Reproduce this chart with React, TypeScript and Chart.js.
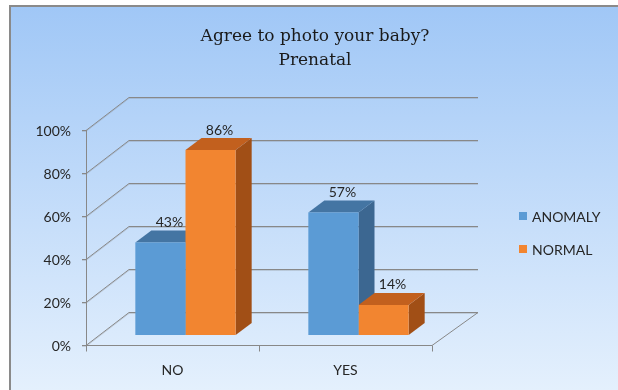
import React, { useEffect, useRef } from "react";
import { Chart, registerables } from "chart.js";
Chart.register(...registerables);

const categories = ["NO", "YES"];
const seriesNames = ["ANOMALY", "NORMAL"];
const anomalyValues = [43, 57];
const normalValues = [86, 14];
const yTickValues = [0, 20, 40, 60, 80, 100];
const titleLines = ["Agree to photo your baby?", "Prenatal"];

const W = 618;
const H = 390;
const FRONT = { dx: -13, dy: 10 };
const BACK = { dx: 30, dy: -23 };
const BAR_D = { dx: 16, dy: -12 };

const FRONT_COLORS = ["#5b9bd5", "#f28530"];
const TOP_COLORS = ["#4475a3", "#c2601e"];
const SIDE_COLORS = ["#3c6791", "#a14f16"];
const GRID = "#888888";
const TEXT = "#262626";
const SANS = "Lato, 'Open Sans', sans-serif";

const plugin3d = {
  id: "fake3d",
  beforeDraw(chart: any) {
    const ctx = chart.ctx;
    const xs = chart.scales.x;
    const ys = chart.scales.y;
    ctx.save();
    // background
    const g = ctx.createLinearGradient(0, 6, 0, H);
    g.addColorStop(0, "#a0c7f6");
    g.addColorStop(1, "#e4f0fd");
    ctx.fillStyle = g;
    ctx.fillRect(10, 6, W - 10, H - 6);
    ctx.strokeStyle = "#8a8a8a";
    ctx.lineWidth = 2;
    ctx.beginPath();
    ctx.moveTo(10, H);
    ctx.lineTo(10, 6);
    ctx.lineTo(W, 6);
    ctx.stroke();

    const left = xs.left;
    const right = xs.right;
    const fl = left + FRONT.dx;
    const fr = right + FRONT.dx;
    const bl = left + BACK.dx;
    const br = right + BACK.dx + 3;

    const line = (pts: number[][]) => {
      ctx.beginPath();
      ctx.moveTo(pts[0][0], pts[0][1]);
      for (let i = 1; i < pts.length; i++) ctx.lineTo(pts[i][0], pts[i][1]);
      ctx.stroke();
    };

    // gridlines: left wall diagonal + back wall horizontal
    ctx.lineWidth = 1;
    yTickValues.forEach((v) => {
      const y = ys.getPixelForValue(v);
      const yf = Math.round(y + FRONT.dy) + 0.5;
      const yb = Math.round(y + BACK.dy) + 0.5;
      ctx.strokeStyle = "rgba(120,120,120,0.25)";
      line([[fl - 4, yf + 1], [fl, yf + 1], [bl, yb + 1], [br, yb + 1]]);
      ctx.strokeStyle = GRID;
      line([[fl - 4, yf], [fl, yf], [bl, yb], [br, yb]]);
    });
    // floor
    const y0 = ys.getPixelForValue(0);
    const yf0 = Math.round(y0 + FRONT.dy) + 0.5;
    const yb0 = Math.round(y0 + BACK.dy) + 0.5;
    ctx.strokeStyle = GRID;
    line([[fl, yf0], [fr, yf0], [br, yb0]]);
    // vertical front axis
    const yTopF = ys.getPixelForValue(100) + FRONT.dy;
    line([[Math.round(fl) + 0.5, yf0], [Math.round(fl) + 0.5, yTopF]]);
    // x tick marks
    const nCat = categories.length;
    for (let i = 0; i <= nCat; i++) {
      const x = Math.round(fl + ((fr - fl) * i) / nCat) + 0.5;
      line([[x, yf0], [x, yf0 + 6]]);
    }

    // y tick labels
    ctx.fillStyle = TEXT;
    ctx.font = "14px " + SANS;
    ctx.textAlign = "right";
    ctx.textBaseline = "middle";
    yTickValues.forEach((v) => {
      const y = ys.getPixelForValue(v) + FRONT.dy + 1;
      ctx.fillText(v + "%", fl - 15, y);
    });
    // category labels
    ctx.textAlign = "center";
    categories.forEach((c, i) => {
      const x = xs.getPixelForValue(i) + FRONT.dx;
      ctx.fillText(c, x, yf0 + 25);
    });

    // title
    ctx.font = "17px 'DejaVu Serif', serif";
    ctx.fillStyle = "#1a1a1a";
    ctx.textBaseline = "alphabetic";
    titleLines.forEach((t, i) => ctx.fillText(t, 315, 41 + i * 24));

    // legend
    ctx.font = "14px " + SANS;
    ctx.textAlign = "left";
    ctx.textBaseline = "middle";
    seriesNames.forEach((n, i) => {
      const y = 216 + i * 33;
      ctx.fillStyle = FRONT_COLORS[i];
      ctx.fillRect(519, y - 4, 8, 8);
      ctx.fillStyle = TEXT;
      ctx.fillText(n, 532, y + 1);
    });
    ctx.restore();
  },
  beforeDatasetsDraw(chart: any) {
    const ctx = chart.ctx;
    ctx.save();
    chart.data.datasets.forEach((ds: any, di: number) => {
      const meta = chart.getDatasetMeta(di);
      meta.data.forEach((el: any) => {
        const x1 = el.x - el.width / 2;
        const x2 = el.x + el.width / 2;
        const top = el.y;
        const bot = el.base;
        ctx.fillStyle = SIDE_COLORS[di];
        ctx.beginPath();
        ctx.moveTo(x2, top);
        ctx.lineTo(x2 + BAR_D.dx, top + BAR_D.dy);
        ctx.lineTo(x2 + BAR_D.dx, bot + BAR_D.dy);
        ctx.lineTo(x2, bot);
        ctx.closePath();
        ctx.fill();
        ctx.fillStyle = TOP_COLORS[di];
        ctx.beginPath();
        ctx.moveTo(x1, top);
        ctx.lineTo(x1 + BAR_D.dx, top + BAR_D.dy);
        ctx.lineTo(x2 + BAR_D.dx, top + BAR_D.dy);
        ctx.lineTo(x2, top);
        ctx.closePath();
        ctx.fill();
      });
    });
    ctx.restore();
  },
  afterDatasetsDraw(chart: any) {
    const ctx = chart.ctx;
    ctx.save();
    ctx.font = "14px " + SANS;
    ctx.fillStyle = TEXT;
    ctx.textAlign = "center";
    ctx.textBaseline = "middle";
    chart.data.datasets.forEach((ds: any, di: number) => {
      const meta = chart.getDatasetMeta(di);
      meta.data.forEach((el: any, i: number) => {
        ctx.fillText(ds.data[i] + "%", el.x + 9, el.y - 20);
      });
    });
    ctx.restore();
  },
};

export default function App() {
  const ref = useRef<HTMLCanvasElement>(null);
  useEffect(() => {
    if (!ref.current) return;
    const chart = new Chart(ref.current, {
      type: "bar",
      data: {
        labels: categories,
        datasets: [
          { label: seriesNames[0], data: anomalyValues, backgroundColor: FRONT_COLORS[0], borderWidth: 0 },
          { label: seriesNames[1], data: normalValues, backgroundColor: FRONT_COLORS[1], borderWidth: 0 },
        ],
      },
      options: {
        responsive: false,
        animation: false,
        devicePixelRatio: 1,
        layout: { padding: { left: 99, right: 173, top: 120, bottom: 55 } },
        datasets: { bar: { categoryPercentage: 0.58, barPercentage: 1 } },
        scales: {
          x: { display: false },
          y: { display: false, min: 0, max: 100 },
        },
        plugins: { legend: { display: false }, title: { display: false }, tooltip: { enabled: false } },
      },
      plugins: [plugin3d],
    });
    return () => chart.destroy();
  }, []);
  return (
    <div style={{ position: "fixed", left: 0, top: 0, width: W, height: H }}>
      <canvas ref={ref} width={W} height={H} style={{ display: "block" }} />
    </div>
  );
}
